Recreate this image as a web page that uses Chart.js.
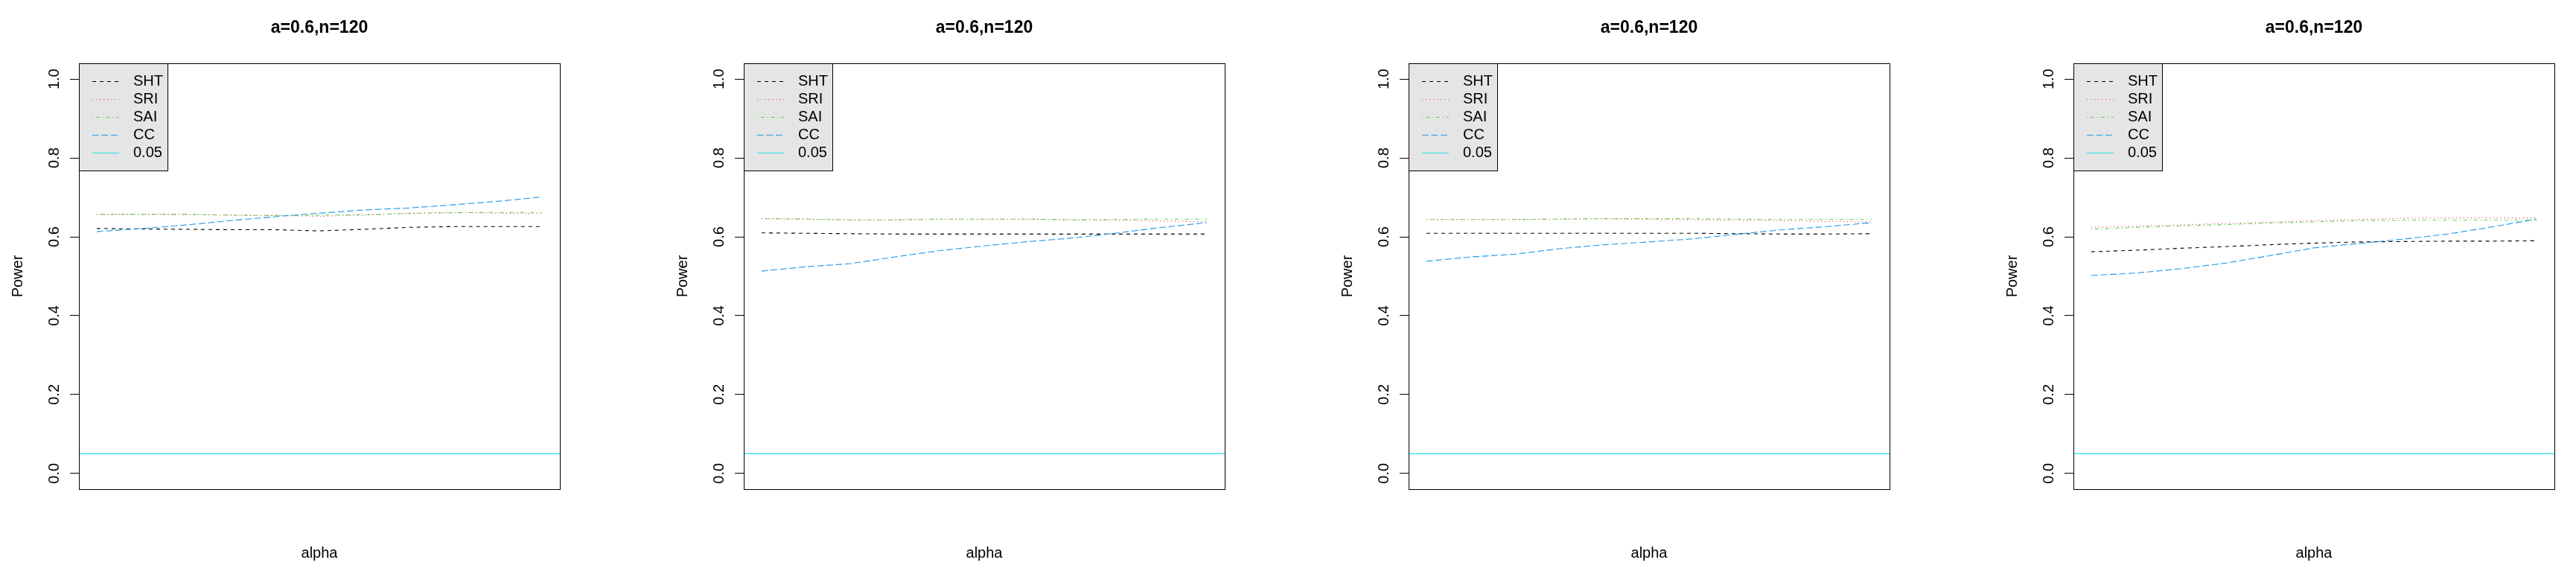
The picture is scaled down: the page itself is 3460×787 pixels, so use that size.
<!DOCTYPE html>
<html>
<head>
<meta charset="utf-8">
<script src="https://cdn.jsdelivr.net/npm/chart.js@4.4.1/dist/chart.umd.min.js"></script>
<style>
  html, body { margin: 0; padding: 0; background: #fff; overflow: hidden; }
  body { width: 3460px; height: 787px; position: relative; }
  canvas { position: absolute; top: 0; }
</style>
</head>
<body>
<canvas id="panel0" width="780" height="787" style="left:0px"></canvas>
<canvas id="panel1" width="780" height="787" style="left:893px"></canvas>
<canvas id="panel2" width="780" height="787" style="left:1786px"></canvas>
<canvas id="panel3" width="780" height="787" style="left:2679px"></canvas>
<script>
// x positions (alpha grid) and tick labels
const alphaValues = [0, 0.1, 0.2, 0.3, 0.4, 0.5, 0.6, 0.7, 0.8, 0.9, 1.0];
const yTickValues = [0, 0.2, 0.4, 0.6, 0.8, 1.0];
const yTickLabels = ["0.0", "0.2", "0.4", "0.6", "0.8", "1.0"];
const seriesNames = ["SHT", "SRI", "SAI", "CC", "0.05"];
const panelTitles = ["a=0.6,n=120", "a=0.6,n=120", "a=0.6,n=120", "a=0.6,n=120"];
const refLevel = 0.05;

// panel 1
const sht1 = [0.621, 0.620, 0.619, 0.618, 0.618, 0.615, 0.619, 0.624, 0.626, 0.626, 0.626];
const sri1 = [0.657, 0.657, 0.657, 0.655, 0.654, 0.652, 0.655, 0.660, 0.662, 0.660, 0.659];
const sai1 = [0.657, 0.657, 0.657, 0.655, 0.654, 0.655, 0.656, 0.659, 0.661, 0.662, 0.662];
const cc1  = [0.613, 0.621, 0.630, 0.641, 0.651, 0.660, 0.668, 0.673, 0.681, 0.690, 0.701];
// panel 2
const sht2 = [0.610, 0.609, 0.608, 0.607, 0.607, 0.607, 0.607, 0.607, 0.607, 0.607, 0.607];
const sri2 = [0.646, 0.645, 0.643, 0.643, 0.645, 0.645, 0.645, 0.643, 0.642, 0.640, 0.638];
const sai2 = [0.646, 0.645, 0.643, 0.643, 0.645, 0.645, 0.645, 0.643, 0.644, 0.645, 0.645];
const cc2  = [0.513, 0.524, 0.532, 0.549, 0.565, 0.577, 0.588, 0.597, 0.610, 0.624, 0.636];
// panel 3
const sht3 = [0.609, 0.609, 0.609, 0.609, 0.609, 0.609, 0.609, 0.608, 0.607, 0.607, 0.608];
const sri3 = [0.644, 0.644, 0.644, 0.645, 0.646, 0.644, 0.643, 0.642, 0.641, 0.639, 0.638];
const sai3 = [0.644, 0.644, 0.644, 0.645, 0.646, 0.646, 0.646, 0.645, 0.644, 0.644, 0.644];
const cc3  = [0.538, 0.549, 0.556, 0.570, 0.580, 0.587, 0.595, 0.607, 0.618, 0.626, 0.636];
// panel 4
const sht4 = [0.562, 0.566, 0.571, 0.575, 0.580, 0.584, 0.587, 0.588, 0.589, 0.589, 0.590];
const sri4 = [0.624, 0.627, 0.630, 0.634, 0.637, 0.641, 0.644, 0.647, 0.648, 0.648, 0.648];
const sai4 = [0.619, 0.624, 0.628, 0.631, 0.635, 0.638, 0.641, 0.642, 0.642, 0.642, 0.642];
const cc4  = [0.502, 0.508, 0.519, 0.533, 0.552, 0.572, 0.583, 0.594, 0.607, 0.625, 0.645];

const panels = [
    [sht1, sri1, sai1, cc1],
    [sht2, sri2, sai2, cc2],
    [sht3, sri3, sai3, cc3],
    [sht4, sri4, sai4, cc4]
];

const FONT = "'Liberation Sans', Arial, Helvetica, sans-serif";
const lineColors = ["#000000", "#DF536B", "#61D04F", "#2297E6", "#28E2E5"];
const lineDashes = [[5, 5], [1.25, 3.75], [1.25, 3.75, 5, 3.75], [8.75, 3.75], []];

// R-style 4% axis extension
const xSpan = alphaValues[alphaValues.length - 1] - alphaValues[0];
const xMin = alphaValues[0] - 0.04 * xSpan;
const xMax = alphaValues[alphaValues.length - 1] + 0.04 * xSpan;

// box, title, rotated tick labels and R-like legend
const rFrame = {
    id: "rFrame",
    afterDraw(chart, args, opts) {
        const { ctx, chartArea: a } = chart;
        const yScale = chart.scales.y;
        ctx.save();
        ctx.strokeStyle = "#000";
        ctx.lineWidth = 1;
        ctx.setLineDash([]);
        ctx.strokeRect(Math.round(a.left) + 0.5, Math.round(a.top) + 0.5,
            Math.round(a.right - a.left), Math.round(a.bottom - a.top));

        ctx.fillStyle = "#000";
        ctx.font = "bold 23px " + FONT;
        ctx.textAlign = "center";
        ctx.textBaseline = "alphabetic";
        ctx.fillText(opts.title, (a.left + a.right) / 2, 44);

        ctx.font = "20px " + FONT;
        yTickValues.forEach((v, i) => {
            ctx.save();
            ctx.translate(a.left - 27, yScale.getPixelForValue(v));
            ctx.rotate(-Math.PI / 2);
            ctx.fillText(yTickLabels[i], 0, 0);
            ctx.restore();
        });

        // legend
        const lx = Math.round(a.left) + 0.5, ly = Math.round(a.top) + 0.5;
        ctx.fillStyle = "#E5E5E5";
        ctx.fillRect(lx, ly, 119, 144);
        ctx.strokeRect(lx, ly, 119, 144);
        ctx.textAlign = "left";
        ctx.textBaseline = "middle";
        chart.data.datasets.forEach((ds, i) => {
            const y = Math.round(a.top) + 24 + 24 * i + 0.5;
            ctx.strokeStyle = ds.borderColor;
            ctx.setLineDash(ds.borderDash);
            ctx.beginPath();
            ctx.moveTo(a.left + 18, y);
            ctx.lineTo(a.left + 54, y);
            ctx.stroke();
            ctx.fillStyle = "#000";
            ctx.fillText(ds.label, a.left + 73, y);
        });
        ctx.restore();
    }
};

function buildDatasets(series) {
    const sets = series.map((vals, i) => ({
        label: seriesNames[i],
        data: alphaValues.map((x, j) => ({ x: x, y: vals[j] })),
        borderColor: lineColors[i],
        borderDash: lineDashes[i],
        borderWidth: 1.1,
        pointRadius: 0,
        fill: false,
        tension: 0,
        order: 5 - i
    }));
    sets.push({
        label: seriesNames[4],
        data: [{ x: xMin, y: refLevel }, { x: xMax, y: refLevel }],
        borderColor: lineColors[4],
        borderDash: lineDashes[4],
        borderWidth: 1.1,
        pointRadius: 0,
        fill: false,
        order: 0
    });
    return sets;
}

panels.forEach((series, k) => {
    const ctx = document.getElementById("panel" + k).getContext("2d");
    new Chart(ctx, {
        type: "line",
        data: { datasets: buildDatasets(series) },
        options: {
            responsive: false,
            animation: false,
            layout: { padding: { left: 0, right: 28, top: 85, bottom: 0 } },
            plugins: {
                legend: { display: false },
                tooltip: { enabled: false },
                title: { display: false },
                rFrame: { title: panelTitles[k] }
            },
            scales: {
                x: {
                    type: "linear",
                    min: xMin,
                    max: xMax,
                    grid: { display: false },
                    border: { display: false },
                    ticks: { display: false },
                    title: {
                        display: true,
                        text: "alpha",
                        color: "#000",
                        font: { family: FONT, size: 20 },
                        padding: { top: 0, bottom: 32 }
                    },
                    afterFit(scale) { scale.height = 130; }
                },
                y: {
                    type: "linear",
                    min: -0.04,
                    max: 1.04,
                    afterBuildTicks(scale) {
                        scale.ticks = yTickValues.map(v => ({ value: v }));
                    },
                    ticks: { display: false },
                    grid: { drawOnChartArea: false, drawTicks: true, tickLength: 12, color: "#000", lineWidth: 1 },
                    border: { display: false },
                    title: {
                        display: true,
                        text: "Power",
                        color: "#000",
                        font: { family: FONT, size: 20 },
                        padding: { top: 12, bottom: 0 }
                    },
                    afterFit(scale) { scale.width = 106; }
                }
            }
        },
        plugins: [rFrame]
    });
});
</script>
</body>
</html>
